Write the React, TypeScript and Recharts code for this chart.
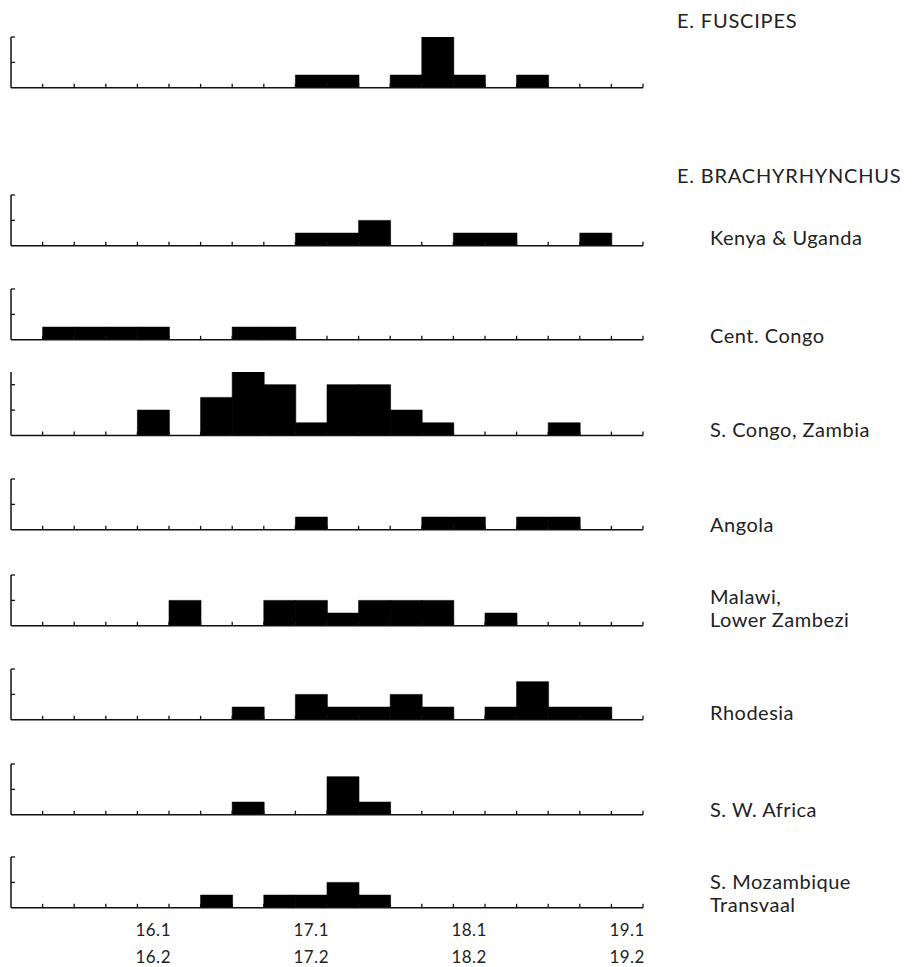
import { BarChart, Bar, XAxis, YAxis } from 'recharts'

// bins are 0.2 wide: 15.3-15.4, 15.5-15.6, ... 19.1-19.2
const binLow = ['15.3', '15.5', '15.7', '15.9', '16.1', '16.3', '16.5', '16.7', '16.9', '17.1',
  '17.3', '17.5', '17.7', '17.9', '18.1', '18.3', '18.5', '18.7', '18.9', '19.1']
const binHigh = ['15.4', '15.6', '15.8', '16.0', '16.2', '16.4', '16.6', '16.8', '17.0', '17.2',
  '17.4', '17.6', '17.8', '18.0', '18.2', '18.4', '18.6', '18.8', '19.0', '19.2']
const labelledLows = ['16.1', '17.1', '18.1', '19.1']

const fuscipes = [0, 0, 0, 0, 0, 0, 0, 0, 0, 1, 1, 0, 1, 4, 1, 0, 1, 0, 0, 0]
const kenyaUganda = [0, 0, 0, 0, 0, 0, 0, 0, 0, 1, 1, 2, 0, 0, 1, 1, 0, 0, 1, 0]
const centCongo = [0, 1, 1, 1, 1, 0, 0, 1, 1, 0, 0, 0, 0, 0, 0, 0, 0, 0, 0, 0]
const sCongoZambia = [0, 0, 0, 0, 2, 0, 3, 5, 4, 1, 4, 4, 2, 1, 0, 0, 0, 1, 0, 0]
const angola = [0, 0, 0, 0, 0, 0, 0, 0, 0, 1, 0, 0, 0, 1, 1, 0, 1, 1, 0, 0]
const malawi = [0, 0, 0, 0, 0, 2, 0, 0, 2, 2, 1, 2, 2, 2, 0, 1, 0, 0, 0, 0]
const rhodesia = [0, 0, 0, 0, 0, 0, 0, 1, 0, 2, 1, 1, 2, 1, 0, 1, 3, 1, 1, 0]
const swAfrica = [0, 0, 0, 0, 0, 0, 0, 1, 0, 0, 3, 1, 0, 0, 0, 0, 0, 0, 0, 0]
const sMozambique = [0, 0, 0, 0, 0, 0, 1, 0, 1, 1, 2, 1, 0, 0, 0, 0, 0, 0, 0, 0]

const UNIT = 12.7
const FONT = 'Lato, "Open Sans", sans-serif'

interface Panel {
  label: string[];
  values: number[];
  yMax: number;
  baseline: number;
  labelY: number;
}

const panels: Panel[] = [
  { label: [], values: fuscipes, yMax: 4, baseline: 88, labelY: 0 },
  { label: ['Kenya & Uganda'], values: kenyaUganda, yMax: 4, baseline: 246, labelY: 238 },
  { label: ['Cent. Congo'], values: centCongo, yMax: 4, baseline: 340, labelY: 336 },
  { label: ['S. Congo, Zambia'], values: sCongoZambia, yMax: 5, baseline: 435, labelY: 430 },
  { label: ['Angola'], values: angola, yMax: 4, baseline: 530, labelY: 525 },
  { label: ['Malawi,', 'Lower Zambezi'], values: malawi, yMax: 4, baseline: 626, labelY: 597 },
  { label: ['Rhodesia'], values: rhodesia, yMax: 4, baseline: 720, labelY: 713 },
  { label: ['S. W. Africa'], values: swAfrica, yMax: 4, baseline: 815, labelY: 810 },
  { label: ['S. Mozambique', 'Transvaal'], values: sMozambique, yMax: 4, baseline: 908, labelY: 882 },
]

const headings = [
  { text: 'E. FUSCIPES', y: 20 },
  { text: 'E. BRACHYRHYNCHUS', y: 175 },
]

const edgeTicks = binLow.map((_, i) => i + 1)
const labelTicks = labelledLows.map((l) => binLow.indexOf(l) + 0.5)

const EdgeTick = (props: any) => {
  const { x, y, payload } = props
  const v = payload.value
  if (Number.isInteger(v)) {
    return <line x1={x} x2={x} y1={y} y2={y - 4} stroke="#111" strokeWidth={1.3} />
  }
  const i = Math.floor(v)
  return (
    <text x={x} y={y} textAnchor="middle" fontSize={17} fill="#222" fontFamily={FONT} letterSpacing={0.5}>
      <tspan x={x} dy={28}>{binLow[i]}</tspan>
      <tspan x={x} dy={27}>{binHigh[i]}</tspan>
    </text>
  )
}

const YTick = (props: any) => {
  const { x, y } = props
  return <line x1={x} x2={x + 4} y1={y} y2={y} stroke="#111" strokeWidth={1.3} />
}

const Histogram = ({ panel, last }: { panel: Panel; last: boolean }) => {
  const data = panel.values.map((count, i) => ({ bin: `${binLow[i]}-${binHigh[i]}`, pos: i + 0.5, count }))
  const plotH = panel.yMax * UNIT
  const axisH = last ? 60 : 6
  return (
    <div style={{ position: 'absolute', left: 0, top: panel.baseline - plotH - 4 }}>
      <BarChart
        width={660}
        height={plotH + 4 + axisH}
        data={data}
        margin={{ top: 4, right: 17, bottom: 0, left: 10 }}
        barCategoryGap={0}
        barGap={0}
      >
        <XAxis
          xAxisId="edges"
          dataKey="pos"
          type="number"
          domain={[0, 20]}
          allowDataOverflow
          ticks={last ? [...edgeTicks, ...labelTicks] : edgeTicks}
          interval={0}
          tick={<EdgeTick />}
          tickLine={false}
          tickSize={0}
          tickMargin={0}
          height={axisH}
          axisLine={{ stroke: '#111', strokeWidth: 1.5 }}
        />
        <XAxis xAxisId="bins" dataKey="bin" hide height={0} />
        <YAxis
          width={1}
          domain={[0, panel.yMax]}
          allowDataOverflow
          ticks={[2, 4]}
          interval={0}
          tick={<YTick />}
          tickLine={false}
          tickSize={0}
          tickMargin={0}
          axisLine={{ stroke: '#111', strokeWidth: 1.5 }}
        />
        <Bar xAxisId="bins" dataKey="count" fill="#000" stroke="#000" strokeWidth={0.6} isAnimationActive={false} />
      </BarChart>
    </div>
  )
}

export default function App() {
  return (
    <div style={{ position: 'absolute', left: 0, top: 0, width: 921, height: 967, background: '#fff', fontFamily: FONT, color: '#222' }}>
      {panels.map((p, i) => (
        <Histogram key={i} panel={p} last={i === panels.length - 1} />
      ))}
      {headings.map((h) => (
        <div key={h.text} style={{ position: 'absolute', left: 677, top: h.y - 12, fontSize: 20, lineHeight: '24px', letterSpacing: 0.8, whiteSpace: 'nowrap' }}>
          {h.text}
        </div>
      ))}
      {panels.filter((p) => p.label.length).map((p) => (
        <div key={p.label[0]} style={{ position: 'absolute', left: 710, top: p.labelY - 12, fontSize: 20, lineHeight: '23px', letterSpacing: 0.5, whiteSpace: 'nowrap' }}>
          {p.label.map((l) => <div key={l}>{l}</div>)}
        </div>
      ))}
    </div>
  )
}
